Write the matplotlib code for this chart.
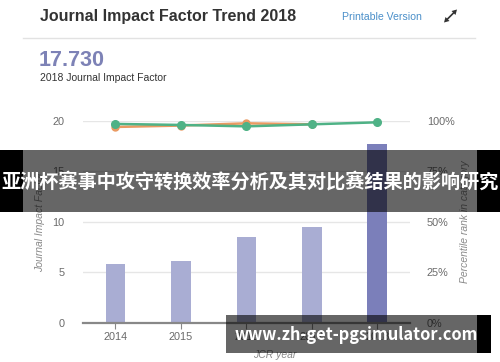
import matplotlib.pyplot as plt
from matplotlib.patches import Rectangle, Polygon
from matplotlib.lines import Line2D

years = ['2014', '2015', '2016', '2017', '2018']
impact_factor = [5.8, 6.15, 8.45, 9.5, 17.73]
rank_green = [98.4, 97.9, 97.2, 98.2, 99.2]
rank_orange = [96.9, 97.6, 98.7, 98.2]
bar_colors = ['#a9add3', '#a9add3', '#a9add3', '#a9add3', '#7b7fba']
left_ticks = [0, 5, 10, 15, 20]
right_ticks = [0, 25, 50, 75, 100]

W, H = 500, 362
LAT = ['Liberation Sans', 'DejaVu Sans']
CJK = ['Noto Sans CJK SC', 'DejaVu Sans']
plt.rcParams['font.family'] = LAT


def fx(x):
    return x / W


def fy(y):
    return 1 - y / H


fig = plt.figure(figsize=(5, 3.62), dpi=100)
fig.patch.set_facecolor('white')

# header
fig.text(fx(40), fy(16), 'Journal Impact Factor Trend 2018', fontsize=11.5,
         fontweight='bold', color='#333333', va='center', ha='left')
fig.text(fx(342), fy(17), 'Printable Version', fontsize=7.6, color='#4a8fc9',
         va='center', ha='left')
# expand icon: diagonal double arrow
fig.add_artist(Line2D([fx(446.5), fx(454.5)], [fy(20), fy(12)],
                      transform=fig.transFigure, color='#333333', lw=1.2))
fig.add_artist(Polygon([(fx(457), fy(9.5)), (fx(451.5), fy(11)), (fx(455.5), fy(15))],
                       closed=True, transform=fig.transFigure, color='#333333', lw=0))
fig.add_artist(Polygon([(fx(444), fy(22.5)), (fx(445.5), fy(17)), (fx(449.5), fy(21))],
                       closed=True, transform=fig.transFigure, color='#333333', lw=0))
fig.add_artist(Line2D([fx(23), fx(475)], [fy(38), fy(38)],
                      transform=fig.transFigure, color='#e2e2e2', lw=1))
fig.text(fx(39), fy(60), '17.730', fontsize=15.5, fontweight='bold',
         color='#7d82b6', va='center', ha='left')
fig.text(fx(40), fy(78), '2018 Journal Impact Factor', fontsize=7.5,
         color='#333333', va='center', ha='left')

# chart
ax = fig.add_axes([fx(82.7), fy(322.7), (410 - 82.7) / W, (322.7 - 120.7) / H])
x = list(range(len(years)))
ax.bar(x, impact_factor, width=0.3, color=bar_colors, zorder=2)
ax.set_xlim(-0.5, 4.5)
ax.set_ylim(0, 20)
ax.set_yticks(left_ticks)
ax.set_xticks(x)
ax.set_xticklabels(years)
ax.grid(axis='y', color='#e6e6e6', lw=1, zorder=0)
for s in ['top', 'right', 'left']:
    ax.spines[s].set_visible(False)
ax.spines['bottom'].set_color('#888888')
ax.spines['bottom'].set_linewidth(1.6)
ax.spines['bottom'].set_zorder(3)
ax.tick_params(axis='x', length=4, color='#888888', labelsize=7.8,
               labelcolor='#6a6a6a', pad=3)
ax.tick_params(axis='y', length=0, labelsize=7.8, labelcolor='#6a6a6a', pad=13)
ax.set_ylabel('Journal Impact Factor', fontsize=7.5, color='#8a8a8a',
              style='italic')
ax.yaxis.set_label_coords(-(82.7 - 45) / (410 - 82.7), 0.5)
ax.set_xlabel('JCR year', fontsize=7.5, color='#8a8a8a', style='italic')
ax.xaxis.set_label_coords((275 - 82.7) / (410 - 82.7), -(350 - 322.7) / 202)

ax2 = ax.twinx()
ax2.set_ylim(0, 100)
ax2.set_yticks(right_ticks)
ax2.set_yticklabels([f'{t}%' for t in right_ticks])
for s in ax2.spines.values():
    s.set_visible(False)
ax2.tick_params(axis='y', length=0, labelsize=7.8, labelcolor='#6a6a6a', pad=12)
ax2.plot(x[:len(rank_orange)], rank_orange, color='#ea9a62', lw=1.8,
         marker='o', ms=5, clip_on=False, zorder=3)
ax2.plot(x, rank_green, color='#4fb286', lw=1.8, marker='o', ms=5.5,
         clip_on=False, zorder=4)
ax2.set_ylabel('Percentile rank in category', fontsize=7.5, color='#8a8a8a',
               style='italic', rotation=90)
ax2.yaxis.set_label_coords(1 + (460 - 410) / (410 - 82.7), 0.5)

# overlays
fig.add_artist(Rectangle((fx(23), fy(212)), fx(476.7 - 23), (212 - 150) / H,
                         transform=fig.transFigure, color='black', alpha=0.6,
                         lw=0, zorder=10))
fig.add_artist(Rectangle((0, fy(212)), fx(23), (212 - 150) / H,
                         transform=fig.transFigure, color='black', lw=0, zorder=10))
fig.add_artist(Rectangle((fx(476.7), fy(212)), fx(500 - 476.7), (212 - 150) / H,
                         transform=fig.transFigure, color='black', lw=0, zorder=10))
fig.text(0.5, fy(182), '亚洲杯赛事中攻守转换效率分析及其对比赛结果的影响研究',
         family=CJK, fontsize=13.8, fontweight='bold', color='white',
         ha='center', va='center', zorder=11)

fig.add_artist(Rectangle((fx(226), fy(353)), fx(477 - 226), (353 - 315) / H,
                         transform=fig.transFigure, color='black', alpha=0.6,
                         lw=0, zorder=10))
fig.add_artist(Rectangle((fx(477), fy(353)), fx(491 - 477), (353 - 315) / H,
                         transform=fig.transFigure, color='black', lw=0, zorder=10))
fig.text(fx(356.5), fy(335), 'www.zh-get-pgsimulator.com', family=CJK,
         fontsize=11.8, fontweight='bold', color='white', ha='center',
         va='center', zorder=11)

fig.savefig('out.png', dpi=100)
